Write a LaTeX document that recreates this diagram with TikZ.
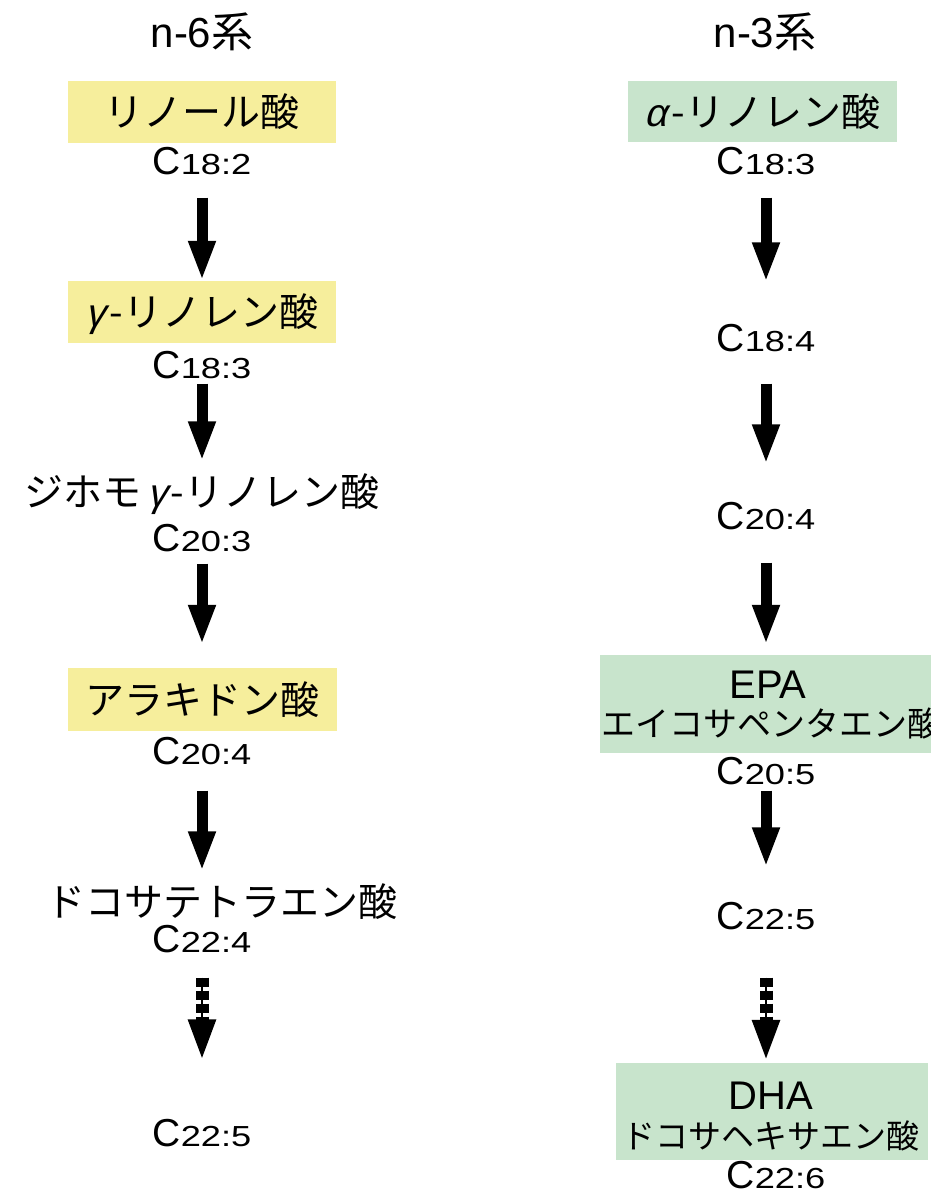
\documentclass[tikz,border=0pt]{standalone}
\usepackage{fontspec}
\usepackage{graphicx}
\setmainfont{Liberation Sans}
\newfontfamily\jp{Noto Sans CJK JP}
\newfontfamily\grk{Liberation Sans}[FakeSlant=0.25]
\usetikzlibrary{arrows.meta}
\definecolor{ybox}{HTML}{F6EE9C}
\definecolor{gbox}{HTML}{C8E4CC}
\newcommand{\cform}[1]{{\fontsize{39}{40}\selectfont C}\scalebox{1.25}[1]{\fontsize{29}{30}\selectfont #1}}
\newcommand{\gr}[1]{{\fontsize{39}{40}\selectfont{\grk #1}\hspace{4pt}-}}
\begin{document}
\begin{tikzpicture}[x=1pt,y=-1pt,
  jtext/.style={font=\jp\fontsize{39}{41}\selectfont, inner sep=0pt, text height=34pt, text depth=5pt},
  jsmall/.style={font=\jp\fontsize{34}{36}\selectfont, inner sep=0pt, text height=30pt, text depth=4pt},
  title/.style={font=\fontsize{42}{44}\selectfont, inner sep=0pt, text height=36pt, text depth=5pt},
  formula/.style={inner sep=0pt, text height=28pt, text depth=0pt},
  latin/.style={font=\fontsize{40}{42}\selectfont, inner sep=0pt, text height=29pt, text depth=0pt},
  yellowbox/.style={fill=ybox, inner sep=0pt},
  greenbox/.style={fill=gbox, inner sep=0pt},
  bigarr/.style={line width=11pt, -{Triangle[width=25pt,length=40pt]}},
  dotarr/.style={line width=13pt, dash pattern=on 9pt off 4pt, -{Triangle[width=25pt,length=42pt]}},
  thinline/.style={line width=2pt}
]
\useasboundingbox (0,0) rectangle (931,1191);
\fill[white] (0,0) rectangle (931,1191);

% ---------- left column (n-6) ----------
\node[title] (t6) at (202,32) {n-6{\jp 系}};
\node[yellowbox, jtext, minimum width=268pt, minimum height=62pt] (b1) at (202,112) {リノール酸};
\node[formula] (f1) at (202,160) {\cform{18:2}};
\node[yellowbox, jtext, minimum width=268pt, minimum height=62pt] (b2) at (202,312) {\gr{γ}リノレン酸};
\node[formula] (f2) at (202,364) {\cform{18:3}};
\node[jtext, font=\jp\fontsize{39}{41}\selectfont] (l3) at (202,492) {ジホモ\hspace{6pt}\gr{γ}リノレン酸};
\node[formula] (f3) at (202,537) {\cform{20:3}};
\node[yellowbox, jtext, minimum width=269pt, minimum height=63pt] (b3) at (202,699.5) {アラキドン酸};
\node[formula] (f4) at (202,750) {\cform{20:4}};
\node[jtext] (l5) at (222,902) {ドコサテトラエン酸};
\node[formula] (f5) at (202,938) {\cform{22:4}};
\node[formula] (f6) at (202,1132) {\cform{22:5}};

\draw[bigarr, shorten <=23.5pt] (f1) -- (b2);
\draw[bigarr, shorten <=5.5pt, shorten >=11pt] (f2) -- (l3);
\draw[bigarr, shorten <=12.5pt, shorten >=23pt] (f3) -- (b3);
\draw[bigarr, shorten <=26.5pt, shorten >=11pt] (f4) -- (f4 |- l5.north);
\draw[thinline, shorten <=25.5pt, shorten >=100pt] (f5) -- (f6);
\draw[dotarr, shorten <=25.5pt, shorten >=56.5pt] (f5) -- (f6);

% ---------- right column (n-3) ----------
\node[title] (t3) at (765,32) {n-3{\jp 系}};
\node[greenbox, jtext, minimum width=269pt, minimum height=61pt] (g1) at (762.5,111.5) {\gr{α}リノレン酸};
\node[formula] (r1) at (766,160) {\cform{18:3}};
\node[formula] (r2) at (766,337) {\cform{18:4}};
\node[formula] (r3) at (766,515) {\cform{20:4}};
\node[greenbox, minimum width=331pt, minimum height=98pt] (g2) at (765.5,704) {};
\node[latin] (epa) at (768,684) {EPA};
\node[jsmall, anchor=west] (epaj) at (601,723) {エイコサペンタエン酸};
\node[formula] (r4) at (766,770) {\cform{20:5}};
\node[formula] (r5) at (766,915) {\cform{22:5}};
\node[greenbox, minimum width=312pt, minimum height=97pt] (g3) at (772,1111.5) {};
\node[latin] (dha) at (771,1095) {DHA};
\node[jsmall, font=\jp\fontsize{33}{35}\selectfont] (dhaj) at (771,1135) {ドコサヘキサエン酸};
\node[formula] (r6) at (776,1174) {\cform{22:6}};

\draw[bigarr, shorten <=23.5pt, shorten >=40.5pt] (r1) -- (r2);
\draw[bigarr, shorten <=32.5pt, shorten >=36.5pt] (r2) -- (r3);
\draw[bigarr, shorten <=33.5pt, shorten >=10pt] (r3) -- (r3 |- g2.north);
\draw[bigarr, shorten <=6.5pt, shorten >=33.5pt] (r4) -- (r5);
\draw[thinline, shorten <=48.5pt, shorten >=45pt] (r5) -- (r5 |- g3.north);
\draw[dotarr, shorten <=48.5pt, shorten >=1pt] (r5) -- (r5 |- g3.north);
\end{tikzpicture}
\end{document}
